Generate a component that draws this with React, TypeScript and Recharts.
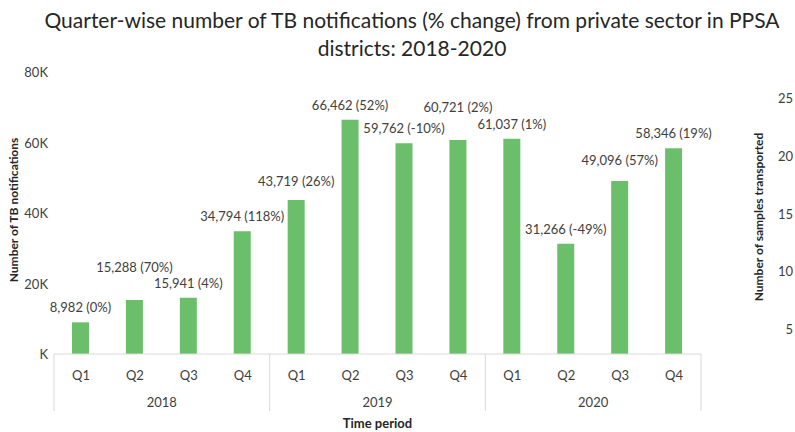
import React from 'react';
import { BarChart, Bar, XAxis, YAxis, LabelList } from 'recharts';

const quarters = ['Q1', 'Q2', 'Q3', 'Q4', 'Q1', 'Q2', 'Q3', 'Q4', 'Q1', 'Q2', 'Q3', 'Q4'];
const years = ['2018', '2018', '2018', '2018', '2019', '2019', '2019', '2019', '2020', '2020', '2020', '2020'];
const notifications = [8982, 15288, 15941, 34794, 43719, 66462, 59762, 60721, 61037, 31266, 49096, 58346];
const pctChange = [0, 70, 4, 118, 26, 52, -10, 2, 1, -49, 57, 19];
const leftTicks = [0, 20000, 40000, 60000, 80000];
const rightTicks = [5, 10, 15, 20, 25];

// extra vertical lift of a few data labels (layout only)
const labelLift = [0, 18, 0, 0, 4, 0, 0, 18, 0, 0, 6, 0];

const data = quarters.map((q, i) => ({
  idx: i,
  quarter: q,
  year: years[i],
  value: notifications[i],
  pct: pctChange[i],
}));

const FONT = 'Lato, "Open Sans", sans-serif';
const GREEN = '#6BBF6B';
const GRID = '#d9d9d9';
const TXT = '#404040';

const XTick = (props: any) => {
  const { x, y, payload, index } = props;
  const half = payload && payload.offset ? payload.offset : 27;
  const items: any[] = [];
  items.push(
    <text key="q" x={x} y={y + 21} textAnchor="middle" dominantBaseline="central" fontSize={13} fill={TXT} fontFamily={FONT}>
      {quarters[index]}
    </text>
  );
  if (index % 4 === 0) {
    items.push(<line key="l" x1={x - half} x2={x - half} y1={y} y2={y + 57} stroke={GRID} strokeWidth={1} />);
  }
  if (index % 4 === 1) {
    items.push(
      <text key="y" x={x + half} y={y + 48} textAnchor="middle" dominantBaseline="central" fontSize={13} fill={TXT} fontFamily={FONT}>
        {years[index]}
      </text>
    );
  }
  if (index === quarters.length - 1) {
    items.push(<line key="r" x1={x + half} x2={x + half} y1={y} y2={y + 57} stroke={GRID} strokeWidth={1} />);
  }
  return <g>{items}</g>;
};

const LeftTick = (props: any) => {
  const { y, payload } = props;
  const v = payload.value;
  const s = v === 0 ? 'K' : `${v / 1000}K`;
  return (
    <text x={48} y={y} textAnchor="end" dominantBaseline="central" fontSize={13} fill={TXT} fontFamily={FONT}>
      {s}
    </text>
  );
};

const RightTick = (props: any) => {
  const { y, payload } = props;
  return (
    <text x={793} y={y} textAnchor="end" dominantBaseline="central" fontSize={13} fill={TXT} fontFamily={FONT}>
      {payload.value}
    </text>
  );
};

const BarLabel = (props: any) => {
  const { x, y, width, index } = props;
  const v = notifications[index];
  const txt = `${v.toLocaleString('en-US')} (${pctChange[index]}%)`;
  return (
    <text
      x={x + width / 2}
      y={y - 15 - labelLift[index]}
      textAnchor="middle"
      dominantBaseline="central"
      fontSize={13}
      fill={TXT}
      fontFamily={FONT}
    >
      {txt}
    </text>
  );
};

export default function App() {
  return (
    <div style={{ position: 'absolute', left: 0, top: 0, width: 795, height: 432, background: '#fff', fontFamily: FONT, overflow: 'hidden' }}>
      <div
        style={{
          position: 'absolute',
          left: 30,
          top: 6,
          width: 764,
          textAlign: 'center',
          fontSize: 21,
          lineHeight: '28px',
          color: '#262626',
          fontFamily: FONT,
          whiteSpace: 'nowrap',
        }}
      >
        Quarter-wise number of TB notifications (% change) from private sector in PPSA
        <br />
        districts: 2018-2020
      </div>
      <BarChart
        width={795}
        height={432}
        data={data}
        margin={{ top: 72, right: 0, bottom: 0, left: 0 }}
        style={{ position: 'absolute', left: 0, top: 0 }}
      >
        <XAxis
          dataKey="idx"
          type="category"
          height={78}
          axisLine={{ stroke: GRID }}
          tickLine={false}
          tickSize={0}
          tickMargin={0}
          interval={0}
          tick={<XTick />}
          label={{
            content: (p: any) => {
              const vb = p.viewBox;
              return (
                <text x={vb.x + vb.width / 2} y={vb.y + 69} textAnchor="middle" dominantBaseline="central" fontSize={13} fontWeight="bold" fill="#262626" fontFamily={FONT}>
                  Time period
                </text>
              );
            },
          }}
        />
        <YAxis
          yAxisId="left"
          width={54}
          domain={[0, 80000]}
          ticks={leftTicks}
          axisLine={false}
          tickLine={false}
          tick={<LeftTick />}
          label={{
            content: (p: any) => {
              const vb = p.viewBox;
              const cx = 13;
              const cy = vb.y + vb.height / 2 - 3;
              return (
                <text x={cx} y={cy} transform={`rotate(-90 ${cx} ${cy})`} textAnchor="middle" dominantBaseline="central" fontSize={12} fontWeight="bold" fill="#262626" fontFamily={FONT}>
                  Number of TB notifications
                </text>
              );
            },
          }}
        />
        <YAxis
          yAxisId="right"
          orientation="right"
          width={94}
          type="number"
          domain={[2.85, 27.25]}
          allowDataOverflow
          ticks={rightTicks}
          axisLine={false}
          tickLine={false}
          tick={<RightTick />}
          label={{
            content: (p: any) => {
              const vb = p.viewBox;
              const cx = 758;
              const cy = vb.y + vb.height / 2 + 4;
              return (
                <text x={cx} y={cy} transform={`rotate(-90 ${cx} ${cy})`} textAnchor="middle" dominantBaseline="central" fontSize={12} fontWeight="bold" fill="#262626" fontFamily={FONT}>
                  Number of samples transported
                </text>
              );
            },
          }}
        />
        <Bar yAxisId="left" dataKey="value" fill={GREEN} barSize={17} isAnimationActive={false}>
          <LabelList dataKey="value" content={<BarLabel />} />
        </Bar>
      </BarChart>
    </div>
  );
}
